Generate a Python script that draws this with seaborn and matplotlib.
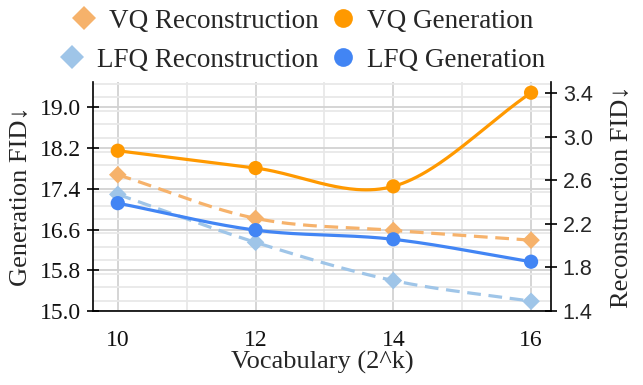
import numpy as np
import pandas as pd
import matplotlib
matplotlib.use("Agg")
import matplotlib.pyplot as plt
from matplotlib.lines import Line2D
from matplotlib.ticker import MultipleLocator, FixedLocator
import seaborn as sns

# ---- data ----
vocab = [10, 12, 14, 16]
vq_gen = [18.15, 17.81, 17.45, 19.29]
lfq_gen = [17.12, 16.59, 16.41, 15.97]
vq_rec = [2.65, 2.25, 2.14, 2.05]
lfq_rec = [2.47, 2.03, 1.68, 1.49]
gen_ticks = [15.0, 15.8, 16.6, 17.4, 18.2, 19.0]
rec_ticks = [1.4, 1.8, 2.2, 2.6, 3.0, 3.4]

C_VQ_GEN = "#FF9900"
C_VQ_REC = "#F6B26B"
C_LFQ_GEN = "#4285F4"
C_LFQ_REC = "#9FC5E8"

sns.set_theme(style="white")
plt.rcParams["font.family"] = ["Liberation Serif", "DejaVu Serif"]


def smooth(x, y, n=60):
    """Cubic Hermite (Catmull-Rom style) curve through the data points."""
    x = np.asarray(x, float)
    y = np.asarray(y, float)
    m = np.empty_like(y)
    m[1:-1] = (y[2:] - y[:-2]) / (x[2:] - x[:-2])
    m[0] = (y[1] - y[0]) / (x[1] - x[0])
    m[-1] = (y[-1] - y[-2]) / (x[-1] - x[-2])
    xs, ys = [], []
    for i in range(len(x) - 1):
        h = x[i + 1] - x[i]
        t = np.linspace(0, 1, n, endpoint=(i == len(x) - 2))
        h00 = 2 * t**3 - 3 * t**2 + 1
        h10 = t**3 - 2 * t**2 + t
        h01 = -2 * t**3 + 3 * t**2
        h11 = t**3 - t**2
        xs.append(x[i] + t * h)
        ys.append(h00 * y[i] + h10 * h * m[i] + h01 * y[i + 1] + h11 * h * m[i + 1])
    return np.concatenate(xs), np.concatenate(ys)


fig = plt.figure(figsize=(6.43, 3.85), dpi=100)
ax = fig.add_axes([0.1446, 0.192, 0.7124, 0.595])
ax2 = ax.twinx()
ax3 = fig.add_axes(ax.get_position(), sharex=ax, sharey=ax)
ax3.patch.set_visible(False)
ax3.axis("off")

# grid on base axes
ax.xaxis.set_major_locator(FixedLocator(vocab))
ax.xaxis.set_minor_locator(MultipleLocator(1))
ax.yaxis.set_major_locator(FixedLocator(gen_ticks))
ax.yaxis.set_minor_locator(MultipleLocator(0.8 / 3))
ax.grid(True, which="major", color="#d2d2d2", lw=1.3)
ax.grid(True, which="minor", color="#e8e8e8", lw=1.3)
ax.set_axisbelow(True)
ax.tick_params(which="minor", length=0)

# reconstruction (right axis), dashed
dash = (4.3, 2.4)
for vals, col in [(vq_rec, C_VQ_REC), (lfq_rec, C_LFQ_REC)]:
    sx, sy = smooth(vocab, vals)
    sns.lineplot(x=sx, y=sy, ax=ax2, color=col, lw=2.3,
                 linestyle=(0, dash), sort=False, estimator=None)
    sns.scatterplot(x=vocab, y=vals, ax=ax2, color=col, marker="D", s=80,
                    edgecolor="none", zorder=4)

# generation (left axis), solid, on top
for vals, col in [(vq_gen, C_VQ_GEN), (lfq_gen, C_LFQ_GEN)]:
    sx, sy = smooth(vocab, vals)
    sns.lineplot(x=sx, y=sy, ax=ax3, color=col, lw=2.3, sort=False, estimator=None)
    sns.scatterplot(x=vocab, y=vals, ax=ax3, color=col, marker="o", s=105,
                    edgecolor="none", zorder=4)

ax.set_xlim(9.64, 16.29)
ax.set_ylim(15.0, 19.5)
ax2.set_ylim(1.4, 3.5)
ax2.set_yticks(rec_ticks)
ax2.grid(False)

# spines
for a in (ax, ax2):
    a.spines["top"].set_visible(False)
ax.spines["right"].set_visible(False)
for s in ("left", "bottom"):
    ax.spines[s].set_color("black")
    ax.spines[s].set_linewidth(1.2)
ax2.spines["right"].set_color("black")
ax2.spines["right"].set_linewidth(1.2)
ax2.spines["left"].set_visible(False)
ax2.spines["bottom"].set_visible(False)

ax.tick_params(axis="both", which="major", direction="inout", length=9, width=1.2,
               color="black", labelsize=17, labelcolor="#111111")
ax.tick_params(axis="x", pad=9)
ax.tick_params(axis="y", pad=4)
ax.set_yticklabels([f"{v:.1f}" for v in gen_ticks])
ax.set_xticklabels([str(v) for v in vocab])
ax2.tick_params(axis="y", which="major", direction="inout", length=9, width=1.2,
                color="black", labelsize=15.5, pad=4)
ax2.set_yticklabels([f"{v:.1f}" for v in rec_ticks],
                    fontfamily=["Liberation Sans", "DejaVu Sans"])

ax.set_xlabel("Vocabulary (2^k)", fontsize=19, labelpad=0)
ax.set_ylabel("Generation FID↓", fontsize=19, labelpad=6)
ax2.set_ylabel("Reconstruction FID↓", fontsize=19, labelpad=13)

# legend entries placed individually
entries = [
    ("VQ Reconstruction", C_VQ_REC, "D", 12, "center right", (0.499, 0.945)),
    ("VQ Generation", C_VQ_GEN, "o", 13.5, "center left", (0.508, 0.945)),
    ("LFQ Reconstruction", C_LFQ_REC, "D", 12, "center right", (0.499, 0.843)),
    ("LFQ Generation", C_LFQ_GEN, "o", 13.5, "center left", (0.508, 0.843)),
]
for label, col, mk, ms, loc, anchor in entries:
    h = Line2D([], [], linestyle="none", marker=mk, color=col, markersize=ms,
               markeredgewidth=0)
    fig.legend(handles=[h], labels=[label], loc=loc, bbox_to_anchor=anchor,
               frameon=False, fontsize=19.5, handlelength=1.0, handletextpad=0.4,
               borderpad=0.1, borderaxespad=0.0)

fig.savefig("out.png", dpi=100)
